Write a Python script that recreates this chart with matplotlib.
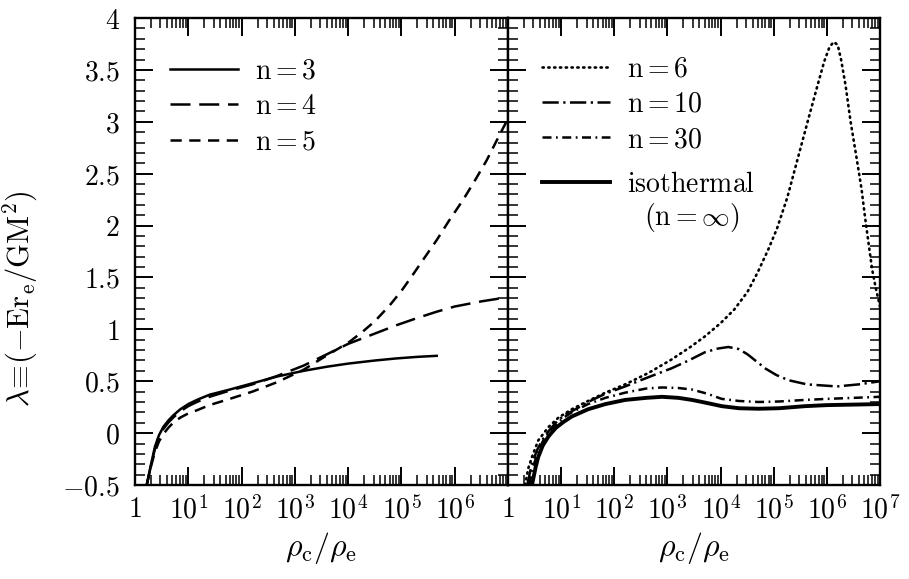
import matplotlib
matplotlib.use("Agg")
import matplotlib.pyplot as plt
from matplotlib.ticker import MultipleLocator, LogLocator, NullFormatter

plt.rcParams['mathtext.fontset'] = 'cm'
plt.rcParams['font.family'] = ['DejaVu Serif']

# rho_c/rho_e and lambda values
# left panel
x_n3 = [1.66, 2.0, 2.37, 2.82, 3.4, 4.2, 5.2, 7.1, 10, 14.5, 25, 60, 160, 460,
        1.45e3, 4.0e3, 1.0e4, 3.2e4, 8.1e4, 2.0e5, 4.6e5]
y_n3 = [-0.50, -0.30, -0.13, -0.02, 0.06, 0.12, 0.17, 0.23, 0.28, 0.32, 0.37,
        0.42, 0.48, 0.545, 0.60, 0.64, 0.67, 0.70, 0.72, 0.735, 0.745]

x_n4 = [1.66, 2.0, 2.37, 2.82, 3.4, 4.2, 5.2, 7.1, 10, 14.5, 25, 60, 160, 460,
        1.45e3, 4.0e3, 1.0e4, 3.2e4, 8.1e4, 2.0e5, 4.6e5, 1.0e6, 3.2e6, 1.0e7]
y_n4 = [-0.50, -0.31, -0.15, -0.04, 0.04, 0.10, 0.15, 0.21, 0.26, 0.30, 0.35,
        0.41, 0.47, 0.55, 0.65, 0.76, 0.86, 0.96, 1.04, 1.11, 1.17, 1.22, 1.27, 1.31]

x_n5 = [1.66, 2.0, 2.37, 2.82, 3.4, 4.2, 5.2, 7.1, 10, 14.5, 25, 60, 160, 460,
        1.45e3, 4.0e3, 1.0e4, 1.9e4, 3.2e4, 6.0e4, 1.0e5, 1.66e5, 2.8e5, 4.6e5,
        7.9e5, 1.45e6, 2.5e6, 4.0e6, 6.3e6, 1.0e7]
y_n5 = [-0.50, -0.32, -0.18, -0.08, -0.01, 0.05, 0.10, 0.15, 0.19, 0.22, 0.27,
        0.33, 0.40, 0.49, 0.61, 0.75, 0.87, 0.98, 1.08, 1.23, 1.37, 1.53, 1.70,
        1.86, 2.05, 2.25, 2.45, 2.63, 2.83, 3.03]

# right panel
x_n6 = [2.1, 2.4, 2.82, 3.7, 5.8, 8.9, 15.8, 32, 68, 160, 440, 1.2e3, 2.7e3,
        5.0e3, 1.0e4, 1.8e4, 3.2e4, 5.0e4, 7.9e4, 1.15e5, 1.8e5, 2.95e5, 4.5e5,
        6.5e5, 8.9e5, 1.12e6, 1.35e6, 1.6e6, 1.85e6, 2.25e6, 2.8e6, 3.55e6,
        4.5e6, 5.2e6, 6.2e6, 7.1e6, 8.3e6, 1.0e7]
y_n6 = [-0.50, -0.34, -0.23, -0.07, 0.06, 0.15, 0.23, 0.31, 0.39, 0.47, 0.58,
        0.71, 0.83, 0.93, 1.06, 1.19, 1.36, 1.55, 1.77, 1.97, 2.27, 2.68, 3.03,
        3.33, 3.58, 3.72, 3.77, 3.74, 3.60, 3.35, 3.00, 2.68, 2.35, 2.09, 1.80,
        1.58, 1.40, 1.22]

x_n10 = [2.3, 2.82, 3.55, 4.5, 5.8, 7.9, 11.2, 15.8, 32, 68, 160, 280, 560,
         1.2e3, 2.5e3, 5.1e3, 8.9e3, 1.4e4, 2.2e4, 3.2e4, 4.5e4, 7.1e4, 1.12e5,
         1.9e5, 4.2e5, 1.55e6, 4.0e6, 1.0e7]
y_n10 = [-0.50, -0.29, -0.16, -0.06, 0.02, 0.10, 0.17, 0.21, 0.30, 0.38, 0.45,
         0.50, 0.56, 0.625, 0.70, 0.78, 0.815, 0.83, 0.81, 0.76, 0.70, 0.62,
         0.56, 0.51, 0.47, 0.45, 0.47, 0.50]

x_n30 = [2.5, 2.95, 3.55, 4.5, 5.8, 7.9, 11.2, 15.8, 32, 68, 160, 400, 790,
         1.6e3, 2.9e3, 5.6e3, 1.05e4, 2.2e4, 5.2e4, 1.26e5, 3.9e5, 1.0e6, 3.2e6, 1.0e7]
y_n30 = [-0.50, -0.33, -0.20, -0.08, 0.00, 0.08, 0.15, 0.20, 0.28, 0.34, 0.39,
         0.43, 0.44, 0.435, 0.42, 0.38, 0.33, 0.31, 0.30, 0.305, 0.32, 0.33, 0.34, 0.35]

x_iso = [2.82, 3.3, 3.7, 4.5, 5.8, 7.9, 11.2, 15.8, 32, 68, 160, 400, 790,
         1.6e3, 2.9e3, 5.6e3, 1.05e4, 2.2e4, 5.2e4, 1.26e5, 3.9e5, 1.0e6, 3.2e6, 1.0e7]
y_iso = [-0.50, -0.33, -0.23, -0.12, -0.03, 0.05, 0.11, 0.16, 0.23, 0.28, 0.32,
         0.34, 0.35, 0.34, 0.32, 0.29, 0.26, 0.24, 0.235, 0.24, 0.26, 0.27, 0.275, 0.28]

yticks = [-0.5, 0, 0.5, 1, 1.5, 2, 2.5, 3, 3.5, 4]
ylabels = ['$-0.5$', '$0$', '$0.5$', '$1$', '$1.5$', '$2$', '$2.5$', '$3$', '$3.5$', '$4$']
xticks = [1, 1e1, 1e2, 1e3, 1e4, 1e5, 1e6, 1e7]
xlabels = ['$1$', '$10^1$', '$10^2$', '$10^3$', '$10^4$', '$10^5$', '$10^6$', '$10^7$']

fig = plt.figure(figsize=(9.09, 5.79), dpi=100)
ax1 = fig.add_axes([0.1485, 0.1623, 0.4103, 0.8066])
ax2 = fig.add_axes([0.5589, 0.1623, 0.4092, 0.8066])

ax1.plot(x_n3, y_n3, color='k', lw=1.8, label=r'$\mathrm{n=3}$')
ax1.plot(x_n4, y_n4, color='k', lw=1.8, ls=(0, (8, 3.5)), label=r'$\mathrm{n=4}$')
ax1.plot(x_n5, y_n5, color='k', lw=1.8, ls=(0, (4.5, 3)), label=r'$\mathrm{n=5}$')

ax2.plot(x_n6, y_n6, color='k', lw=1.9, ls=(0, (0.5, 1.7)), dash_capstyle='round',
         label=r'$\mathrm{n=6}$')
ax2.plot(x_n10, y_n10, color='k', lw=1.8, ls=(0, (6.5, 1.8, 0.9, 1.8)),
         label=r'$\mathrm{n=10}$')
ax2.plot(x_n30, y_n30, color='k', lw=1.8, ls=(0, (3.6, 1.8, 0.7, 1.8)),
         label=r'$\mathrm{n=30}$')
iso, = ax2.plot(x_iso, y_iso, color='k', lw=2.8, label=r'$\mathrm{isothermal}$')

for ax in (ax1, ax2):
    ax.set_xscale('log')
    ax.set_xlim(1, 1e7)
    ax.set_ylim(-0.5, 4)
    ax.set_yticks(yticks)
    ax.yaxis.set_minor_locator(MultipleLocator(0.1))
    ax.xaxis.set_minor_locator(LogLocator(base=10, subs=range(2, 10), numticks=20))
    ax.xaxis.set_minor_formatter(NullFormatter())
    ax.tick_params(which='both', direction='in', top=True, right=True, labelsize=20)
    ax.tick_params(which='major', length=13, width=1.4, pad=8)
    ax.tick_params(which='minor', length=7, width=1.1)
    for s in ax.spines.values():
        s.set_linewidth(1.7)
    ax.set_xlabel(r'$\rho_\mathrm{c}/\rho_\mathrm{e}$', fontsize=23, labelpad=4)

ax1.set_xticks(xticks[:-1], xlabels[:-1])
ax2.set_xticks(xticks, xlabels)
ax1.set_yticklabels(ylabels)
ax1.tick_params(axis='y', which='major', pad=11)
ax2.tick_params(labelleft=False)

ax1.set_ylabel(r'$\lambda\!\equiv\!(-\mathrm{Er_e/GM^2})$', fontsize=22)
ax1.yaxis.set_label_coords(-0.255, 0.40)

leg_kw = dict(loc='upper left', frameon=False, fontsize=20, handlelength=2.45,
              handletextpad=0.6, labelspacing=0.3, borderpad=0, borderaxespad=0)
ax1.legend(bbox_to_anchor=(0.094, 0.915), **leg_kw)
h, l = ax2.get_legend_handles_labels()
leg = ax2.legend(h[:3], l[:3], bbox_to_anchor=(0.091, 0.92), **leg_kw)
ax2.add_artist(leg)
ax2.legend([iso], [l[3]], bbox_to_anchor=(0.091, 0.672), **leg_kw)
ax2.text(0.495, 0.572, r'$(\mathrm{n=\infty})$', transform=ax2.transAxes,
         fontsize=20, ha='center', va='center')

fig.savefig('out.png', dpi=100)
